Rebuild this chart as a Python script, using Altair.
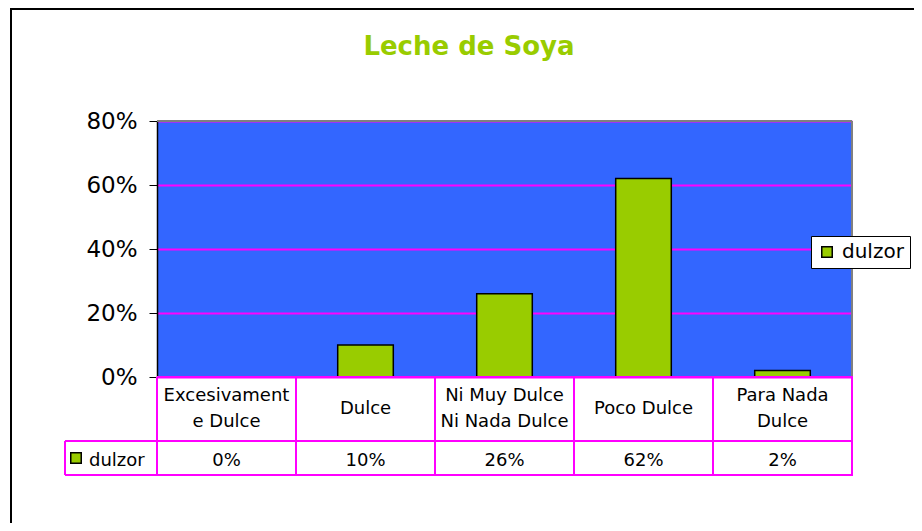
import altair as alt
import pandas as pd

# ---- data ----
categories = ["Excesivamente Dulce", "Dulce", "Ni Muy Dulce Ni Nada Dulce", "Poco Dulce", "Para Nada Dulce"]
table_labels = ["Excesivament\ne Dulce", "Dulce", "Ni Muy Dulce\nNi Nada Dulce", "Poco Dulce", "Para Nada\nDulce"]
values = [0.00, 0.10, 0.26, 0.62, 0.02]
series_name = "dulzor"
title_text = "Leche de Soya"
y_ticks = [0.0, 0.2, 0.4, 0.6, 0.8]

df = pd.DataFrame({"categoria": categories, "etiqueta": table_labels,
                   "valor": values, "serie": series_name})
serie_df = pd.DataFrame({"serie": [series_name]})
title_df = pd.DataFrame({"titulo": [title_text]})

# ---- styles ----
W, H = 695, 256
FONT = "DejaVu Sans"
GREEN = "#99CC00"
BLUE = "#3366FF"
MAGENTA = "#FF00FF"
GRAY = "#808080"

x_scale = alt.Scale(paddingInner=0.6, paddingOuter=0.3)
x_enc = alt.X("categoria:N", sort=categories, scale=x_scale, axis=None)

border = alt.Chart(serie_df).mark_rect(fillOpacity=0, stroke="black", strokeWidth=2).encode(
    x=alt.value(-146), x2=alt.value(790), y=alt.value(-112), y2=alt.value(430))

bars = alt.Chart(df).mark_bar(stroke="black", strokeWidth=1.5).encode(
    x=x_enc,
    y=alt.Y("valor:Q", scale=alt.Scale(domain=[0, 0.8], nice=False),
            axis=alt.Axis(values=y_ticks, format=".0%", title=None, grid=True,
                          gridColor=MAGENTA, gridWidth=2, domainColor="black",
                          domainWidth=1.5, tickColor="black", tickSize=8, tickWidth=1,
                          labelFont=FONT, labelFontSize=23, labelColor="black",
                          labelPadding=12)),
    color=alt.Color("serie:N", scale=alt.Scale(range=[GREEN]),
                    legend=alt.Legend(orient="none", legendX=654, legendY=115, title=None,
                                      fillColor="white", strokeColor="black", padding=6,
                                      symbolType="square", symbolSize=110,
                                      symbolStrokeColor="black", symbolStrokeWidth=1.5,
                                      labelFont=FONT, labelFontSize=20, labelColor="black",
                                      labelOffset=5)),
)

top_rule = alt.Chart(serie_df).mark_rule(color=GRAY, strokeWidth=2).encode(
    x=alt.value(0), x2=alt.value(W), y=alt.value(0))
right_rule = alt.Chart(serie_df).mark_rule(color=GRAY, strokeWidth=2).encode(
    x=alt.value(W), y=alt.value(0), y2=alt.value(H))

# data table grid
h1 = alt.Chart(serie_df).mark_rule(color=MAGENTA, strokeWidth=2).encode(
    x=alt.value(0), x2=alt.value(W + 1), y=alt.value(H))
h2 = alt.Chart(serie_df).mark_rule(color=MAGENTA, strokeWidth=2).encode(
    x=alt.value(-92), x2=alt.value(W + 1), y=alt.value(320))
h3 = alt.Chart(serie_df).mark_rule(color=MAGENTA, strokeWidth=2).encode(
    x=alt.value(-92), x2=alt.value(W + 1), y=alt.value(354))
v_cells = alt.Chart(df).mark_rule(color=MAGENTA, strokeWidth=2, xOffset=-69.5).encode(
    x=x_enc, y=alt.value(H), y2=alt.value(354))
v_right = alt.Chart(serie_df).mark_rule(color=MAGENTA, strokeWidth=2).encode(
    x=alt.value(W), y=alt.value(H), y2=alt.value(354))
v_left = alt.Chart(serie_df).mark_rule(color=MAGENTA, strokeWidth=2).encode(
    x=alt.value(-92), y=alt.value(320), y2=alt.value(354))

two_lines = "indexof(datum.etiqueta, '\\n') >= 0"
one_line = "indexof(datum.etiqueta, '\\n') < 0"

cat_text2 = alt.Chart(df).transform_filter(two_lines).mark_text(
    font=FONT, fontSize=18, color="black", lineBreak="\n",
    baseline="alphabetic", lineHeight=26).encode(
    x=x_enc, y=alt.value(280), text="etiqueta:N")
cat_text1 = alt.Chart(df).transform_filter(one_line).mark_text(
    font=FONT, fontSize=18, color="black", baseline="middle").encode(
    x=x_enc, y=alt.value(288), text="etiqueta:N")
val_text = alt.Chart(df).mark_text(font=FONT, fontSize=18, color="black",
                                   baseline="alphabetic").encode(
    x=x_enc, y=alt.value(345), text=alt.Text("valor:Q", format=".0%"))

hdr_swatch = alt.Chart(serie_df).mark_square(size=110, fill=GREEN, stroke="black",
                                             strokeWidth=1.5, opacity=1).encode(
    x=alt.value(-81), y=alt.value(337))
hdr_text = alt.Chart(serie_df).mark_text(font=FONT, fontSize=18, color="black", align="left",
                                         baseline="alphabetic").encode(
    x=alt.value(-68), y=alt.value(345), text="serie:N")

title = alt.Chart(title_df).mark_text(font=FONT, fontSize=26, fontWeight="bold", color=GREEN,
                                      baseline="alphabetic").encode(
    x=alt.value(312), y=alt.value(-66), text="titulo:N")

chart = alt.layer(
    border, bars, top_rule, right_rule, h1, h2, h3, v_cells, v_right, v_left,
    cat_text2, cat_text1, val_text, hdr_swatch, hdr_text, title
).properties(
    width=W, height=H,
    autosize=alt.AutoSizeParams(type="none"),
    padding={"left": 149, "top": 113, "right": 62, "bottom": 146},
    background="white",
).configure_view(fill=BLUE, stroke=None)

chart.save("out.html", embed_options={"renderer": "svg", "actions": False})
